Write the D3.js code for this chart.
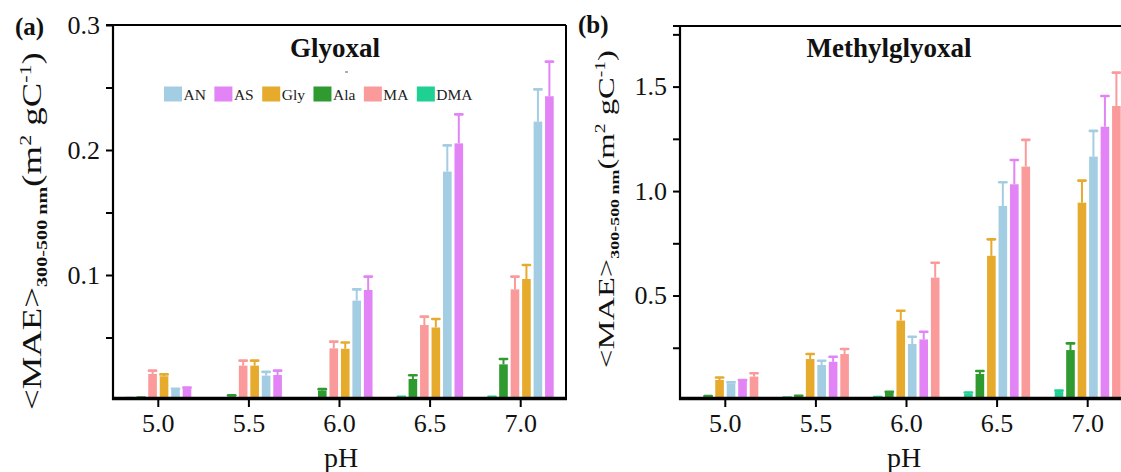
<!DOCTYPE html>
<html><head><meta charset="utf-8">
<script src="https://cdn.jsdelivr.net/npm/d3@7"></script>
<style>
html,body{margin:0;padding:0;background:#fff;}
svg{display:block;font-family:"Liberation Serif","Times New Roman",serif;}
</style></head>
<body><svg id="c" width="1121" height="472"></svg>
<script>
// ---------- data ----------
const phLabels = ["5.0","5.5","6.0","6.5","7.0"];
const seriesNames = ["AN","AS","Gly","Ala","MA","DMA"];
const seriesColors = ["#a3cde2","#e283f6","#e6aa2c","#2f9a2f","#fa9a9a","#1fd093"];

// Glyoxal (panel a)
const glyAN      = [0.0080, 0.0195, 0.0795, 0.1827, 0.2227];
const glyAN_err  = [0.0010, 0.0030, 0.0090, 0.0210, 0.0258];
const glyAS      = [0.0095, 0.0200, 0.0880, 0.2053, 0.2430];
const glyAS_err  = [0.0005, 0.0035, 0.0107, 0.0232, 0.0277];
const glyGly     = [0.0190, 0.0275, 0.0410, 0.0580, 0.0968];
const glyGly_err = [0.0015, 0.0040, 0.0050, 0.0068, 0.0112];
const glyAla     = [0.0015, 0.0030, 0.0075, 0.0168, 0.0285];
const glyAla_err = [0.0005, 0.0008, 0.0012, 0.0030, 0.0043];
const glyMA      = [0.0208, 0.0275, 0.0413, 0.0600, 0.0885];
const glyMA_err  = [0.0027, 0.0040, 0.0054, 0.0067, 0.0102];
const glyDMA     = [0.0012, 0.0010, 0.0010, 0.0020, 0.0020];
const glyDMA_err = [0.0003, 0.0003, 0.0003, 0.0005, 0.0005];

// Methylglyoxal (panel b)
const mgAN      = [0.080, 0.1675, 0.268, 0.929, 1.165];
const mgAN_err  = [0.005, 0.020, 0.035, 0.113, 0.123];
const mgAS      = [0.091, 0.183, 0.290, 1.0325, 1.308];
const mgAS_err  = [0.005, 0.024, 0.037, 0.1165, 0.147];
const mgGly     = [0.0957, 0.196, 0.380, 0.690, 0.9445];
const mgGly_err = [0.012, 0.024, 0.0475, 0.079, 0.1055];
const mgAla     = [0.015, 0.016, 0.035, 0.1245, 0.239];
const mgAla_err = [0.004, 0.004, 0.004, 0.0145, 0.032];
const mgMA      = [0.112, 0.220, 0.5856, 1.117, 1.407];
const mgMA_err  = [0.016, 0.024, 0.071, 0.128, 0.160];
const mgDMA     = [0.006, 0.010, 0.012, 0.030, 0.038];
const mgDMA_err = [0.001, 0.002, 0.002, 0.006, 0.007];

const glyTicks = [0.05,0.10,0.15,0.20,0.25,0.30];
const glyTickLabels = ["","0.1","","0.2","","0.3"];
const mgTicks = [0.25,0.50,0.75,1.00,1.25,1.50,1.75];
const mgTickLabels = ["","0.5","","1.0","","1.5",""];

const glyData = {AN:[glyAN,glyAN_err],AS:[glyAS,glyAS_err],Gly:[glyGly,glyGly_err],Ala:[glyAla,glyAla_err],MA:[glyMA,glyMA_err],DMA:[glyDMA,glyDMA_err]};
const mgData  = {AN:[mgAN,mgAN_err],AS:[mgAS,mgAS_err],Gly:[mgGly,mgGly_err],Ala:[mgAla,mgAla_err],MA:[mgMA,mgMA_err],DMA:[mgDMA,mgDMA_err]};

const color = d3.scaleOrdinal().domain(seriesNames).range(seriesColors);
const svg = d3.select("#c");

function panel(cfg){
  const x = d3.scaleBand().domain(phLabels).range([cfg.x0, cfg.x1]).padding(0);
  const xi = d3.scaleBand().domain(cfg.order).range([-33, 33]).paddingInner(0.25).paddingOuter(0);
  const y = d3.scaleLinear().domain([0, cfg.ymax]).range([400, cfg.top]);
  const g = svg.append("g");

  // bars
  const recs = [];
  cfg.order.forEach(s => {
    const [vals, errs] = cfg.data[s];
    phLabels.forEach((p,i) => recs.push({s, p, v: vals[i], e: errs[i]}));
  });
  const bw = xi.bandwidth();
  const cx = d => x(d.p) + x.bandwidth()/2 + xi(d.s) + bw/2;
  g.selectAll("rect.bar").data(recs).join("rect")
    .attr("x", d => cx(d) - bw/2).attr("width", bw)
    .attr("y", d => y(d.v)).attr("height", d => y(0) - y(d.v))
    .attr("fill", d => color(d.s));
  g.selectAll("line.eb").data(recs).join("line")
    .attr("x1", cx).attr("x2", cx)
    .attr("y1", d => y(d.v)).attr("y2", d => y(d.v + d.e))
    .attr("stroke", d => color(d.s)).attr("stroke-width", 2);
  g.selectAll("line.cap").data(recs).join("line")
    .attr("x1", d => cx(d) - bw*0.42).attr("x2", d => cx(d) + bw*0.42)
    .attr("y1", d => y(d.v + d.e)).attr("y2", d => y(d.v + d.e))
    .attr("stroke", d => color(d.s)).attr("stroke-width", 2.6).attr("stroke-linecap","round");

  // y axis
  const ya = g.append("g").attr("transform", `translate(${cfg.x0},0)`)
    .call(d3.axisLeft(y).tickValues(cfg.ticks).tickSize(7).tickPadding(6)
      .tickFormat((d,i) => cfg.tickLabels[i]));
  ya.select(".domain").remove();
  ya.selectAll(".tick line").attr("stroke","#000").attr("stroke-width",2);
  ya.selectAll(".tick text").attr("font-size",26).attr("fill","#111")
    .attr("font-family","Liberation Serif, serif");

  // x axis
  const xa = g.append("g").attr("transform", `translate(0,400)`)
    .call(d3.axisBottom(x).tickSize(7).tickSizeOuter(0));
  xa.select(".domain").remove();
  xa.selectAll(".tick line").attr("stroke","#000").attr("stroke-width",2);
  xa.selectAll(".tick text").attr("font-size",26).attr("fill","#111").attr("y",14)
    .attr("font-family","Liberation Serif, serif");

  // frame
  g.append("line").attr("x1",cfg.x0).attr("x2",cfg.x0).attr("y1",cfg.top).attr("y2",400)
    .attr("stroke","#000").attr("stroke-width",2.2);
  g.append("line").attr("x1",cfg.x0-7).attr("x2",cfg.x1).attr("y1",cfg.top).attr("y2",cfg.top)
    .attr("stroke","#000").attr("stroke-width",2);
  g.append("line").attr("x1",cfg.x1).attr("x2",cfg.x1).attr("y1",cfg.top).attr("y2",400)
    .attr("stroke","#000").attr("stroke-width",2);
  g.append("line").attr("x1",cfg.x0-1).attr("x2",cfg.x1+1).attr("y1",398.5).attr("y2",398.5)
    .attr("stroke","#000").attr("stroke-width",3.5);

  // x title
  g.append("text").attr("x", cfg.pHX).attr("y",467)
    .attr("text-anchor","middle").attr("font-size",28).attr("fill","#111").text("pH");
  // panel title
  g.append("text").attr("x", cfg.titleX).attr("y", 57).attr("text-anchor","middle")
    .attr("font-size",27).attr("font-weight","bold").attr("fill","#111").text(cfg.title);
  // panel letter
  g.append("text").attr("x", cfg.letterX).attr("y", cfg.letterY).attr("font-size",25)
    .attr("font-weight","bold").attr("fill","#111").text(cfg.letter);

  // y label (glyphs in the reference are stretched along the text direction)
  const fs = cfg.labelSize;
  const yl = g.append("text")
    .attr("transform", `translate(${cfg.labelX},${cfg.labelY}) rotate(-90) scale(${cfg.labelStretch},1)`)
    .attr("font-size", fs).attr("fill","#111");
  yl.append("tspan").text("<MAE>");
  yl.append("tspan").attr("font-size", fs*0.55).attr("font-weight","bold").attr("dy", fs*0.22).text("300-500 nm");
  yl.append("tspan").attr("dy", -fs*0.22).text("(m");
  yl.append("tspan").attr("font-size", fs*0.6).attr("dy", -fs*0.38).text("2");
  yl.append("tspan").attr("dy", fs*0.38).text(" gC");
  yl.append("tspan").attr("font-size", fs*0.6).attr("dy", -fs*0.38).text("-1");
  yl.append("tspan").attr("dy", fs*0.38).text(")");
  return {x, y, g};
}

const pa = panel({x0:113, x1:566, top:25, ymax:0.30, ticks:glyTicks, tickLabels:glyTickLabels,
  order:["DMA","Ala","MA","Gly","AN","AS"], data:glyData, title:"Glyoxal", titleX:335, pHX:341,
  letter:"(a)", letterX:15, letterY:35, labelX:41, labelY:410, labelSize:27, labelStretch:1.36});
const pb = panel({x0:680, x1:1133, top:26, ymax:1.79, ticks:mgTicks, tickLabels:mgTickLabels,
  order:["DMA","Ala","Gly","AN","AS","MA"], data:mgData, title:"Methylglyoxal", titleX:889, pHX:904,
  letter:"(b)", letterX:578, letterY:33, labelX:614, labelY:368, labelSize:24, labelStretch:1.36});

// legend (panel a)
const leg = svg.append("g").attr("transform","translate(164,94)");
let lx = 0;
seriesNames.forEach(s => {
  const it = leg.append("g").attr("transform", `translate(${lx},0)`);
  it.append("rect").attr("x",0).attr("y",-7.5).attr("width",18).attr("height",15).attr("fill",color(s));
  const t = it.append("text").attr("x",19.5).attr("y",5.5).attr("font-size",15.5).attr("fill","#222").text(s);
  lx += 19.5 + t.node().getComputedTextLength() + 8.5;
});
// small stray mark under title
svg.append("line").attr("x1",345).attr("x2",348).attr("y1",72).attr("y2",72)
  .attr("stroke","#777").attr("stroke-width",1.2);
</script></body></html>
